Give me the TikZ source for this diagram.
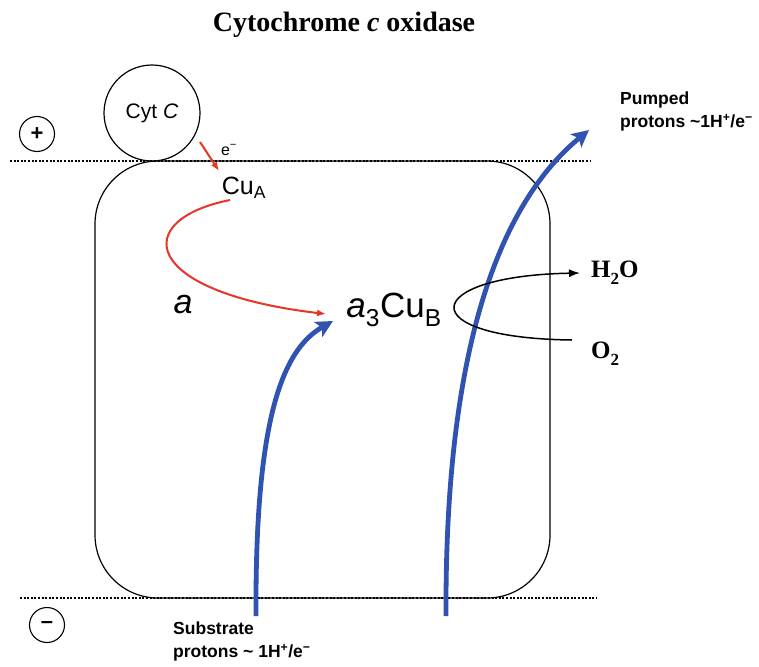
\documentclass[tikz,border=0pt]{standalone}
\usepackage{fontspec}
\setmainfont{Liberation Serif}
\setsansfont{Liberation Sans}
\usetikzlibrary{arrows.meta}
\definecolor{pblue}{RGB}{48,82,176}
\definecolor{ered}{RGB}{232,52,40}
\newcommand{\lowsub}[1]{\raisebox{-0.28em}{\fontsize{17}{17}\selectfont #1}}
\tikzset{
  memline/.style={line width=2pt, dash pattern=on 2pt off 1.6pt},
  sign/.style={circle, draw, line width=1.1pt, minimum size=35pt, inner sep=0pt, font=\sffamily\bfseries\fontsize{22}{22}\selectfont},
  lbl/.style={inner sep=0pt, font=\sffamily},
  bluearr/.style={draw=pblue, line width=4.8pt, -{Stealth[length=17pt,width=17pt,inset=4pt]}},
  redarr/.style={draw=ered, line width=2pt, -{Latex[length=9pt,width=7pt]}},
  serifb/.style={inner sep=0pt, font=\rmfamily\bfseries\fontsize{25}{25}\selectfont},
  note/.style={inner sep=0pt, align=left, anchor=north west, font=\sffamily\bfseries\fontsize{17.5}{22.5}\selectfont}
}
\begin{document}
\begin{tikzpicture}[x=1pt,y=-1pt]
\useasboundingbox (0,0) rectangle (759,666);
% title
\node[inner sep=0pt, font=\rmfamily\bfseries\fontsize{28}{28}\selectfont] (title) at (344,25) {Cytochrome \textit{c} oxidase};
% membrane lines
\coordinate (tl) at (10,161); \coordinate (tr) at (590,161);
\coordinate (bl) at (20,598); \coordinate (br) at (597,598);
\draw[memline] (tl) -- (tr);
\draw[memline] (bl) -- (br);
% enzyme box
\node[draw, line width=1.2pt, rounded corners=63pt, minimum width=455pt, minimum height=437pt, inner sep=0pt] (box) at (322.5,379.5) {};
% signs
\node[sign] (plus) at (37,134) {+};
\node[sign] (minus) at (47,625) {--};
% cyt c
\node[circle, draw, line width=1.2pt, minimum size=96pt, inner sep=0pt, font=\sffamily\fontsize{21}{21}\selectfont] (cytc) at (152,113) {Cyt \textit{C}};
% labels
\node[lbl, font=\sffamily\fontsize{16}{16}\selectfont] (em) at (229,150) {e\textsuperscript{−}};
\node[lbl, font=\sffamily\fontsize{25}{25}\selectfont] (cua) at (244,188) {Cu\textsubscript{A}};
\node[lbl, font=\sffamily\itshape\fontsize{34}{34}\selectfont] (a) at (183,305) {a};
\node[lbl, font=\sffamily\fontsize{35}{35}\selectfont] (a3) at (394,310) {\textit{a}\textsubscript{3}Cu\textsubscript{B}};
\node[serifb, anchor=west] (h2o) at (591,273) {H\lowsub{2}O};
\node[serifb, anchor=west] (o2) at (591,354) {O\lowsub{2}};
\node[note] (pumped) at (620,92) {Pumped\\protons \textasciitilde 1H\textsuperscript{+}/e\textsuperscript{−}};
\node[note] (subst) at (173,622) {Substrate\\protons \textasciitilde\ 1H\textsuperscript{+}/e\textsuperscript{−}};
% red arrows
\coordinate (e1) at (200,142);
\coordinate (e2) at (219,171);
\draw[redarr] (e1) -- (e2);
\coordinate (r1) at (230,200);
\coordinate (r2) at (326,314);
\draw[redarr] (r1) .. controls (130,220) and (140,292) .. (r2);
% blue arrows
\coordinate (b1s) at (256,616);
\coordinate (b1e) at (333,321);
\draw[bluearr] (b1s) .. controls (255,420) and (282,350) .. (b1e);
\coordinate (b2s) at (446,616);
\coordinate (b2e) at (589,130);
\draw[bluearr] (b2s) .. controls (445,400) and (480,220) .. (b2e);
% oxygen loop
\coordinate (l1) at (572,340);
\coordinate (l2) at (580,273);
\draw[line width=1.5pt, -{Latex[length=11pt,width=8pt]}] (l1) .. controls (410,338) and (420,276) .. (l2);
\end{tikzpicture}
\end{document}
